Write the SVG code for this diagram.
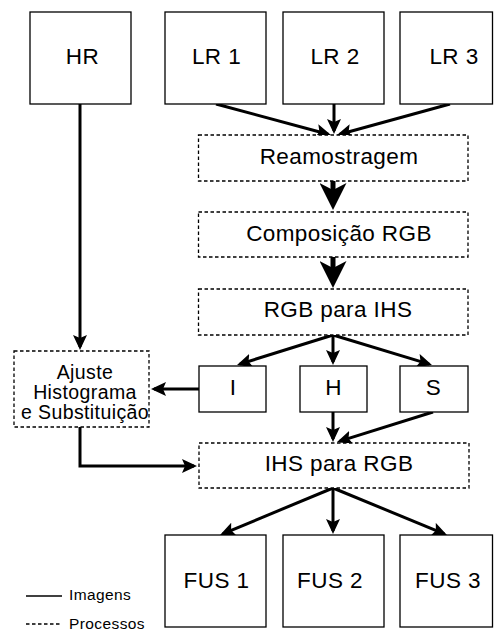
<svg xmlns="http://www.w3.org/2000/svg" width="494" height="630" viewBox="0 0 494 630">
  <defs>
    <style>
      .img { fill: #fff; stroke: #000; stroke-width: 1.3; }
      .proc { fill: #fff; stroke: #000; stroke-width: 1.3; stroke-dasharray: 3.5 2.5; }
      .t { font-family: "Liberation Sans", Arial, Helvetica, sans-serif; font-size: 22.5px; letter-spacing: 0.4px; text-anchor: middle; fill: #000; }
      .ts { font-family: "Liberation Sans", Arial, Helvetica, sans-serif; font-size: 19.5px; letter-spacing: 0.4px; text-anchor: middle; fill: #000; }
      .tl { font-family: "Liberation Sans", Arial, Helvetica, sans-serif; font-size: 15.5px; letter-spacing: 0.4px; fill: #000; }
      .c { fill: none; stroke: #000; stroke-width: 3; marker-end: url(#arr); }
      .cb { fill: none; stroke: #000; stroke-width: 5; marker-end: url(#arrBig); }
    </style>
    <marker id="arr" viewBox="0 0 15 14" refX="12" refY="7" markerWidth="15" markerHeight="14" markerUnits="userSpaceOnUse" orient="auto">
      <path d="M0,0 L15,7 L0,14 L3,7 Z" fill="#000"/>
    </marker>
    <marker id="arrBig" viewBox="0 0 27 27" refX="7" refY="13.5" markerWidth="27" markerHeight="27" markerUnits="userSpaceOnUse" orient="auto">
      <path d="M0,0 L27,13.5 L0,27 L7,13.5 Z" fill="#000"/>
    </marker>
  </defs>

  <g id="connectors">
    <path class="c" d="M216,104 L328.1,134.2"/>
    <path class="c" d="M334,104 L334,131"/>
    <path class="c" d="M450,104 L339.9,134.2"/>
    <path class="cb" d="M333,181 L333,190"/>
    <path class="cb" d="M333,257 L333,268"/>
    <path class="c" d="M333,335 L239.9,364.1"/>
    <path class="c" d="M333,335 L333,362"/>
    <path class="c" d="M333,335 L429.1,364.1"/>
    <path class="c" d="M199,389 L154,389"/>
    <path class="c" d="M80,104 L80,347"/>
    <path class="c" d="M333,412 L333,439"/>
    <path class="c" d="M433,412 L339.9,441.1"/>
    <path class="c" d="M80,427 V466 H194"/>
    <path class="c" d="M333,488 L222.8,533.8"/>
    <path class="c" d="M333,488 L333,531"/>
    <path class="c" d="M333,488 L444.2,533.9"/>
  </g>

  <g id="hr"><rect class="img" x="30" y="12" width="101" height="92"/><text class="t" x="82.5" y="63.5">HR</text></g>
  <g id="lr1"><rect class="img" x="165" y="12" width="101" height="92"/><text class="t" x="216.5" y="63.5">LR 1</text></g>
  <g id="lr2"><rect class="img" x="283" y="12" width="101" height="92"/><text class="t" x="335" y="63.5">LR 2</text></g>
  <g id="lr3"><rect class="img" x="400" y="12" width="92.5" height="92"/><text class="t" x="454" y="63.5">LR 3</text></g>

  <g id="reamostragem"><rect class="proc" x="198.5" y="135" width="269.5" height="46"/><text class="t" x="339" y="163.5">Reamostragem</text></g>
  <g id="composicao"><rect class="proc" x="198.5" y="212" width="269.5" height="45"/><text class="t" x="339" y="241">Composição RGB</text></g>
  <g id="rgb2ihs"><rect class="proc" x="198.5" y="289" width="269.5" height="46"/><text class="t" x="338" y="317">RGB para IHS</text></g>

  <g id="ajuste"><rect class="proc" x="14" y="351" width="135" height="76"/>
    <text class="ts" x="85" y="378.5">Ajuste</text>
    <text class="ts" x="85" y="398.5">Histograma</text>
    <text class="ts" x="85" y="419">e Substituição</text>
  </g>

  <g id="i"><rect class="img" x="199" y="366" width="67" height="46"/><text class="t" x="233" y="394.5">I</text></g>
  <g id="h"><rect class="img" x="300" y="366" width="67" height="46"/><text class="t" x="333.5" y="394.5">H</text></g>
  <g id="s"><rect class="img" x="400" y="366" width="68" height="46"/><text class="t" x="433.5" y="394.5">S</text></g>

  <g id="ihs2rgb"><rect class="proc" x="199" y="443" width="270" height="45"/><text class="t" x="339" y="471">IHS para RGB</text></g>

  <g id="fus1"><rect class="img" x="165" y="535" width="101" height="92"/><text class="t" x="216.5" y="587.5">FUS 1</text></g>
  <g id="fus2"><rect class="img" x="283" y="535" width="101" height="92"/><text class="t" x="330" y="587.5">FUS 2</text></g>
  <g id="fus3"><rect class="img" x="400" y="535" width="92.5" height="92"/><text class="t" x="448" y="587.5">FUS 3</text></g>

  <g id="legend">
    <line x1="26" y1="596" x2="62" y2="596" stroke="#000" stroke-width="1.3"/>
    <text class="tl" x="69" y="600">Imagens</text>
    <line x1="26" y1="624" x2="62" y2="624" stroke="#000" stroke-width="1.3" stroke-dasharray="3.5 2.5"/>
    <text class="tl" x="69" y="628.5">Processos</text>
  </g>
</svg>
